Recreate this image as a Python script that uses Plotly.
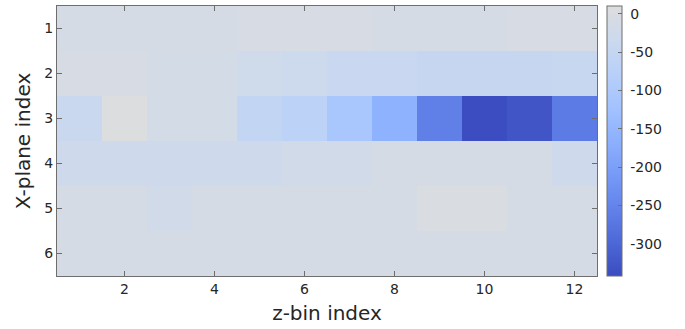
import plotly.graph_objects as go

# Bin indices
z_bins = list(range(1, 13))
x_planes = list(range(1, 7))

# Map values, one list per X-plane (columns = z-bins 1..12)
plane_1 = [-10, -10, -10, -10, -8, -8, -8, -10, -10, -10, -7, -7]
plane_2 = [-9, -9, -15, -15, -25, -32, -40, -40, -47, -47, -47, -42]
plane_3 = [-39, 5, -17, -17, -55, -70, -110, -162, -258, -340, -328, -266]
plane_4 = [-28, -28, -28, -28, -28, -22, -20, -10, -10, -10, -10, -28]
plane_5 = [-10, -10, -20, -10, -10, -10, -10, -10, 0, 0, -10, -10]
plane_6 = [-10, -10, -10, -10, -10, -10, -10, -10, -10, -10, -10, -10]

z_min, z_max = -342, 10
cbar_ticks = [0, -50, -100, -150, -200, -250, -300]
cbar_labels = ["0", "-50", "-100", "-150", "-200", "-250", "-300"]
x_ticks = [2, 4, 6, 8, 10, 12]

# Lower (cool) half of the coolwarm map, blue to neutral grey
cool_half = [
    [0.0, "rgb(59,76,192)"],
    [0.125, "rgb(77,104,215)"],
    [0.25, "rgb(98,130,234)"],
    [0.375, "rgb(119,154,247)"],
    [0.5, "rgb(141,176,254)"],
    [0.625, "rgb(163,194,255)"],
    [0.75, "rgb(184,208,249)"],
    [0.875, "rgb(204,217,238)"],
    [1.0, "rgb(221,221,221)"],
]

font_family = "DejaVu Sans"
text_col = "#262626"
frame_col = "#6e6e6e"

fig = go.Figure(
    go.Heatmap(
        x=z_bins,
        y=x_planes,
        z=[plane_1, plane_2, plane_3, plane_4, plane_5, plane_6],
        zmin=z_min,
        zmax=z_max,
        colorscale=cool_half,
        xgap=0,
        ygap=0,
        colorbar=dict(
            thickness=15,
            len=1.0,
            lenmode="fraction",
            x=1.0185,
            xanchor="left",
            y=0.5,
            yanchor="middle",
            outlinewidth=1,
            outlinecolor=frame_col,
            tickvals=cbar_ticks,
            # leading no-break space pushes the labels clear of the bar
            ticktext=["\u00a0" + s for s in cbar_labels],
            ticks="inside",
            ticklen=4,
            tickcolor=frame_col,
            tickfont=dict(family=font_family, size=14, color=text_col),
            ypad=0,
            xpad=0,
        ),
    )
)

axis_common = dict(
    showgrid=False,
    zeroline=False,
    showline=True,
    linecolor=frame_col,
    linewidth=1,
    mirror="ticks",
    ticks="inside",
    ticklen=5,
    tickcolor=frame_col,
    tickfont=dict(family=font_family, size=14, color=text_col),
)

fig.update_xaxes(
    range=[0.5, 12.5],
    tickvals=x_ticks,
    title=dict(text="z-bin index", font=dict(family=font_family, size=20, color=text_col), standoff=10),
    **axis_common,
)
fig.update_yaxes(
    range=[6.5, 0.5],
    tickvals=x_planes,
    title=dict(text="X-plane index", font=dict(family=font_family, size=20, color=text_col), standoff=8),
    **axis_common,
)

fig.update_layout(
    width=685,
    height=329,
    margin=dict(l=57, r=88, t=6, b=53),
    paper_bgcolor="white",
    plot_bgcolor="white",
    font=dict(family=font_family, color=text_col),
)

fig.write_html("out.html")
